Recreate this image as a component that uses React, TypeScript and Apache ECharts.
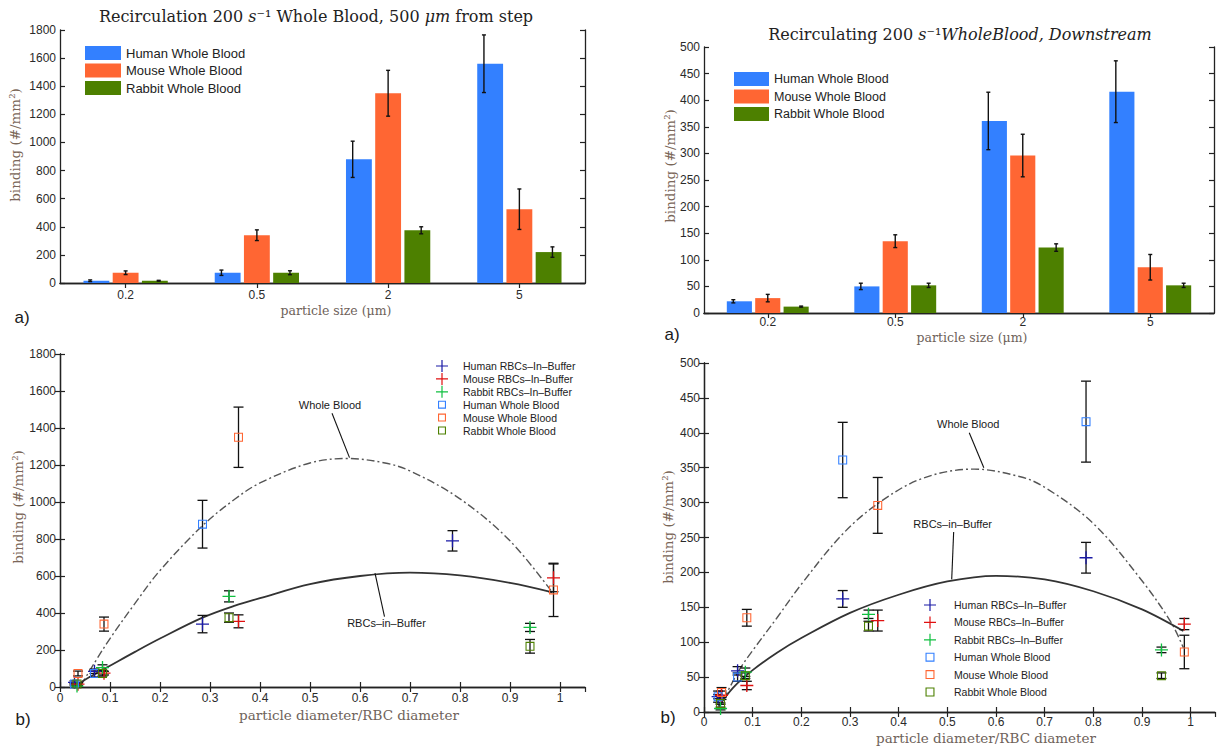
import React, { useEffect, useRef } from 'react';
import * as echarts from 'echarts';

// ---------- data ----------
const sizeCats = ['0.2', '0.5', '2', '5'];

// a) left: recirculation 200 s^-1, 500 um from step (bars, #/mm^2)
const humanWB500 = [16, 73, 880, 1560];
const humanWB500Err = [6, 19, 129, 205];
const mouseWB500 = [73, 340, 1350, 525];
const mouseWB500Err = [13, 38, 163, 144];
const rabbitWB500 = [16, 73, 375, 220];
const rabbitWB500Err = [3, 14, 25, 37];

// a) right: downstream (bars)
const humanWBDown = [22, 50, 361, 416];
const humanWBDownErr = [3, 6, 54, 58];
const mouseWBDown = [28, 135, 296, 86];
const mouseWBDownErr = [7, 12, 40, 24];
const rabbitWBDown = [12, 52, 123, 52];
const rabbitWBDownErr = [1, 4, 7, 4];

// particle diameter / RBC diameter for 0.2, 0.5, 2, 5 um
const humanRatio = [0.029, 0.069, 0.285, 0.785];
const mouseRatio = [0.036, 0.088, 0.357, 0.987];
const rabbitRatio = [0.034, 0.085, 0.338, 0.94];

// b) left: RBCs-in-buffer
const humanRBC500 = [25, 85, 340, 790];
const humanRBC500Err = [8, 12, 47, 55];
const mouseRBC500 = [15, 75, 355, 590];
const mouseRBC500Err = [8, 10, 35, 75];
const rabbitRBC500 = [5, 105, 490, 322];
const rabbitRBC500Err = [3, 15, 30, 22];
const humanWB500Shown = 3; // the 5 um human whole blood point is not drawn in b) left

// b) right: RBCs-in-buffer
const humanRBCDown = [22, 59, 162, 221];
const humanRBCDownErr = [8, 6, 12, 22];
const mouseRBCDown = [24, 38, 131, 126];
const mouseRBCDownErr = [6, 6, 15, 8];
const rabbitRBCDown = [5, 57, 140, 89];
const rabbitRBCDownErr = [2, 6, 6, 4];

// fitted curves
const wbCurve500 = [[0.042, 10], [0.07, 135], [0.1, 262], [0.15, 452], [0.2, 630], [0.285, 872], [0.35, 1016], [0.4, 1103], [0.5, 1211], [0.575, 1235], [0.65, 1211], [0.7, 1168], [0.8, 1017], [0.9, 790], [0.985, 510]];
const rbcCurve500 = [[0.03, 5], [0.06, 55], [0.1, 115], [0.15, 190], [0.2, 262], [0.285, 375], [0.35, 440], [0.4, 480], [0.5, 556], [0.6, 600], [0.7, 618], [0.8, 603], [0.9, 563], [0.985, 512]];
const wbCurveDown = [[0.04, 18], [0.074, 62], [0.1, 88], [0.15, 135], [0.2, 183], [0.285, 255], [0.36, 300], [0.45, 335], [0.555, 348], [0.65, 337], [0.7, 322], [0.8, 270], [0.9, 188], [0.96, 128], [0.985, 92]];
const rbcCurveDown = [[0.03, 8], [0.06, 35], [0.1, 60], [0.15, 85], [0.2, 106], [0.3, 142], [0.4, 168], [0.5, 187], [0.6, 195], [0.7, 190], [0.8, 173], [0.9, 147], [0.985, 116]];

// annotation anchors (data coordinates)
const wbLabel500 = [0.54, 1522];
const wbArrow500 = [[0.544, 1480], [0.579, 1240]];
const rbcLabel500 = [0.653, 346];
const rbcArrow500 = [[0.649, 380], [0.63, 615]];
const wbLabelDown = [0.543, 413];
const wbArrowDown = [[0.545, 400], [0.575, 350]];
const rbcLabelDown = [0.511, 269];
const rbcArrowDown = [[0.513, 258], [0.509, 190]];

// ---------- styles ----------
const C_HWB = '#3380ff';
const C_MWB = '#ff6633';
const C_RWB = '#4d8000';
const C_HRBC = '#1a1aa6';
const C_MRBC = '#e01010';
const C_RRBC = '#10c040';
const SANS = 'Liberation Sans, Arial, sans-serif';
const SERIF = 'DejaVu Serif, serif';
const AX = '#222';

const PLUS = 'path://M0,5.4H12V6.6H0Z M5.4,0H6.6V12H5.4Z';
const SQUARE = 'path://M0,0H10V10H0Z M1.2,1.2V8.8H8.8V1.2Z';
const PLUS_L = 'path://M0,0L0.01,0Z M32,12L31.99,12Z M10,5.4H22V6.6H10Z M15.4,0H16.6V12H15.4Z';
const SQUARE_L = 'path://M0,0L0.01,0Z M32,12L31.99,12Z M12,2H20V10H12Z M13.1,3.1V8.9H18.9V3.1Z';
const PLUS_R = 'path://M0,0L0.01,0Z M38,12L37.99,12Z M13,5.4H25V6.6H13Z M18.4,0H19.6V12H18.4Z';
const SQUARE_R = 'path://M0,0L0.01,0Z M38,12L37.99,12Z M14.5,1.5H23.5V10.5H14.5Z M15.6,2.6V9.4H22.4V2.6Z';

const lineStyle = { color: AX, width: 1.3 };
const tickIn = { show: true, inside: true, length: 5, lineStyle: { color: AX, width: 1.2 } };

function catAxes(grid: number, margin: number) {
  return [
    {
      type: 'category', gridIndex: grid, data: sizeCats, position: 'bottom',
      axisLine: { lineStyle }, axisTick: { ...tickIn, alignWithLabel: true },
      axisLabel: { color: '#2a2a2a', fontSize: 12, fontFamily: SANS, margin },
    },
    {
      type: 'category', gridIndex: grid, data: sizeCats, position: 'top',
      axisLine: { lineStyle }, axisTick: { ...tickIn, alignWithLabel: true },
      axisLabel: { show: false },
    },
  ];
}

function ratioAxes(grid: number, margin: number) {
  const base = { type: 'value', gridIndex: grid, min: 0, max: 1.05, interval: 0.1, splitLine: { show: false } };
  return [
    {
      ...base, position: 'bottom', axisLine: { lineStyle }, axisTick: tickIn,
      axisLabel: {
        color: '#2a2a2a', fontSize: 12, fontFamily: SANS, margin, showMaxLabel: false,
        formatter: (v: number) => (v > 1.001 ? '' : String(+v.toFixed(1))),
      },
    },
    { ...base, position: 'top', axisLine: { lineStyle }, axisTick: tickIn, axisLabel: { show: false } },
  ];
}

function valueAxes(grid: number, max: number, interval: number) {
  const base = { type: 'value', gridIndex: grid, min: 0, max, interval, splitLine: { show: false } };
  return [
    {
      ...base, position: 'left', axisLine: { show: true, lineStyle }, axisTick: tickIn,
      axisLabel: {
        color: '#2a2a2a', fontSize: 12, fontFamily: SANS, margin: 4,
        formatter: (v: number) => String(Math.round(v)),
      },
    },
    { ...base, position: 'right', axisLine: { show: true, lineStyle }, axisTick: tickIn, axisLabel: { show: false } },
  ];
}

function barSeries(name: string, data: number[], color: string, ax: number) {
  return {
    type: 'bar', name, data, xAxisIndex: ax, yAxisIndex: ax,
    barWidth: '19.7%', barGap: '13%', itemStyle: { color }, z: 2,
  };
}

function barErr(values: number[], errs: number[], offFrac: number, ax: number) {
  return {
    type: 'custom', xAxisIndex: ax, yAxisIndex: ax, z: 5, silent: true,
    data: values.map((v, i) => [i, v - errs[i], v + errs[i]]),
    encode: { x: 0, y: [1, 2] },
    renderItem: (params: any, api: any) => {
      const band = api.size([1, 0])[0];
      const p0 = api.coord([api.value(0), api.value(1)]);
      const p1 = api.coord([api.value(0), api.value(2)]);
      const x = p0[0] + offFrac * band;
      const style = { stroke: '#111', lineWidth: 1.4 };
      const cap = 2;
      return {
        type: 'group',
        children: [
          { type: 'line', shape: { x1: x, y1: p0[1], x2: x, y2: p1[1] }, style },
          { type: 'line', shape: { x1: x - cap, y1: p0[1], x2: x + cap, y2: p0[1] }, style },
          { type: 'line', shape: { x1: x - cap, y1: p1[1], x2: x + cap, y2: p1[1] }, style },
        ],
      };
    },
  };
}

function pointErr(xs: number[], values: number[], errs: number[], ax: number) {
  return {
    type: 'custom', xAxisIndex: ax, yAxisIndex: ax, z: 6, silent: true,
    data: values.map((v, i) => [xs[i], v - errs[i], v + errs[i]]),
    encode: { x: 0, y: [1, 2] },
    renderItem: (params: any, api: any) => {
      const p0 = api.coord([api.value(0), api.value(1)]);
      const p1 = api.coord([api.value(0), api.value(2)]);
      const style = { stroke: '#111', lineWidth: 1.3 };
      const cap = 5;
      return {
        type: 'group',
        children: [
          { type: 'line', shape: { x1: p0[0], y1: p0[1], x2: p1[0], y2: p1[1] }, style },
          { type: 'line', shape: { x1: p0[0] - cap, y1: p0[1], x2: p0[0] + cap, y2: p0[1] }, style },
          { type: 'line', shape: { x1: p1[0] - cap, y1: p1[1], x2: p1[0] + cap, y2: p1[1] }, style },
        ],
      };
    },
  };
}

function points(name: string, xs: number[], values: number[], color: string, symbol: string, size: number, ax: number) {
  return {
    type: 'scatter', name, xAxisIndex: ax, yAxisIndex: ax, z: 7,
    data: values.map((v, i) => [xs[i], v]),
    symbol, symbolSize: size, itemStyle: { color, opacity: 1 },
  };
}

function curve(data: number[][], dashed: boolean, ax: number, label: string, labelPos: number[], arrow: number[][]) {
  return {
    type: 'line', xAxisIndex: ax, yAxisIndex: ax, z: 3, silent: true,
    data, smooth: 0.35, symbol: 'none',
    lineStyle: dashed
      ? { color: '#555', width: 1.4, type: [8, 3, 2, 3] }
      : { color: '#333', width: 1.8, type: 'solid' },
    markPoint: {
      symbol: 'circle', symbolSize: 0, silent: true,
      label: { show: true, position: 'inside', formatter: label, color: '#1a1a1a', fontSize: 11, fontFamily: SANS },
      data: [{ coord: labelPos }],
    },
    markLine: {
      silent: true, symbol: ['none', 'arrow'], symbolSize: [0, 9],
      lineStyle: { color: '#111', width: 1.1, type: 'solid' },
      label: { show: false },
      data: [[{ coord: arrow[0] }, { coord: arrow[1] }]],
    },
  };
}

const NAMES = {
  hwb: 'Human Whole Blood', mwb: 'Mouse Whole Blood', rwb: 'Rabbit Whole Blood',
  hrbc: 'Human RBCs\u2013In\u2013Buffer', mrbc: 'Mouse RBCs\u2013In\u2013Buffer', rrbc: 'Rabbit RBCs\u2013In\u2013Buffer',
};

function scatterLegend(left: number, top: number, plus: string, square: string, w: number, gap: number) {
  return {
    orient: 'vertical', left, top, padding: 0, itemGap: gap, itemWidth: w, itemHeight: 12,
    selectedMode: false,
    textStyle: { fontSize: 10.5, fontFamily: SANS, color: '#222', lineHeight: 12 },
    data: [
      { name: NAMES.hrbc, icon: plus, itemStyle: { color: C_HRBC } },
      { name: NAMES.mrbc, icon: plus, itemStyle: { color: C_MRBC } },
      { name: NAMES.rrbc, icon: plus, itemStyle: { color: C_RRBC } },
      { name: NAMES.hwb, icon: square, itemStyle: { color: C_HWB } },
      { name: NAMES.mwb, icon: square, itemStyle: { color: C_MWB } },
      { name: NAMES.rwb, icon: square, itemStyle: { color: C_RWB } },
    ],
  };
}

function barLegend(left: number, top: number, w: number, fontSize: number) {
  return {
    orient: 'vertical', left, top, padding: 0, itemGap: 3.5, itemWidth: w, itemHeight: 14,
    selectedMode: false, icon: 'rect',
    textStyle: { fontSize, fontFamily: SANS, color: '#222', lineHeight: 14 },
    data: [
      { name: NAMES.hwb, icon: 'rect', itemStyle: { color: C_HWB } },
      { name: NAMES.mwb, icon: 'rect', itemStyle: { color: C_MWB } },
      { name: NAMES.rwb, icon: 'rect', itemStyle: { color: C_RWB } },
    ],
  };
}

function txt(text: string, x: number, y: number, font: number, family: string, color: string, rotate = 0, rich?: any) {
  return {
    type: 'text', x, y, rotation: rotate, silent: true,
    style: { text, fontSize: font, fontFamily: family, fill: color, align: 'center', verticalAlign: 'middle', rich },
  };
}

export default function App() {
  const ref = useRef<HTMLDivElement>(null);
  useEffect(() => {
    if (!ref.current) return;
    const chart = echarts.init(ref.current, null, { renderer: 'svg' });
    const italic = { i: { fontStyle: 'italic', fontSize: 16, fontFamily: SERIF, fill: '#222' } };
    const option: any = {
      animation: false,
      backgroundColor: '#ffffff',
      textStyle: { fontFamily: SANS },
      grid: [
        { left: 60, top: 30, width: 525, height: 253, containLabel: false },
        { left: 704, top: 47, width: 510, height: 266, containLabel: false },
        { left: 60, top: 354, width: 525, height: 333, containLabel: false },
        { left: 704, top: 363, width: 511, height: 349, containLabel: false },
      ],
      xAxis: [...catAxes(0, 6), ...catAxes(1, 3), ...ratioAxes(2, 5), ...ratioAxes(3, 4)],
      yAxis: [...valueAxes(0, 1800, 200), ...valueAxes(1, 500, 50), ...valueAxes(2, 1800, 200), ...valueAxes(3, 500, 50)],
      legend: [
        barLegend(85, 46, 36, 13),
        barLegend(734, 72, 35, 12.5),
        scatterLegend(426, 360, PLUS_L, SQUARE_L, 32, 0.9),
        scatterLegend(911, 599, PLUS_R, SQUARE_R, 38, 5.4),
      ],
      series: [
        // a) left bars (axes 0)
        barSeries(NAMES.hwb, humanWB500, C_HWB, 0),
        barSeries(NAMES.mwb, mouseWB500, C_MWB, 0),
        barSeries(NAMES.rwb, rabbitWB500, C_RWB, 0),
        barErr(humanWB500, humanWB500Err, -0.27, 0),
        barErr(mouseWB500, mouseWB500Err, 0, 0),
        barErr(rabbitWB500, rabbitWB500Err, 0.252, 0),
        // a) right bars (axes 2)
        barSeries(NAMES.hwb, humanWBDown, C_HWB, 2),
        barSeries(NAMES.mwb, mouseWBDown, C_MWB, 2),
        barSeries(NAMES.rwb, rabbitWBDown, C_RWB, 2),
        barErr(humanWBDown, humanWBDownErr, -0.27, 2),
        barErr(mouseWBDown, mouseWBDownErr, 0, 2),
        barErr(rabbitWBDown, rabbitWBDownErr, 0.262, 2),
        // b) left (axes 4)
        curve(wbCurve500, true, 4, 'Whole Blood', wbLabel500, wbArrow500),
        curve(rbcCurve500, false, 4, 'RBCs\u2013in\u2013Buffer', rbcLabel500, rbcArrow500),
        points(NAMES.hrbc, humanRatio, humanRBC500, C_HRBC, PLUS, 13, 4),
        points(NAMES.mrbc, mouseRatio, mouseRBC500, C_MRBC, PLUS, 13, 4),
        points(NAMES.rrbc, rabbitRatio, rabbitRBC500, C_RRBC, PLUS, 13, 4),
        points(NAMES.hwb, humanRatio.slice(0, humanWB500Shown), humanWB500.slice(0, humanWB500Shown), C_HWB, SQUARE, 9, 4),
        points(NAMES.mwb, mouseRatio, mouseWB500, C_MWB, SQUARE, 9, 4),
        points(NAMES.rwb, rabbitRatio, rabbitWB500, C_RWB, SQUARE, 9, 4),
        pointErr(humanRatio, humanRBC500, humanRBC500Err, 4),
        pointErr(mouseRatio, mouseRBC500, mouseRBC500Err, 4),
        pointErr(rabbitRatio, rabbitRBC500, rabbitRBC500Err, 4),
        pointErr(humanRatio.slice(0, humanWB500Shown), humanWB500.slice(0, humanWB500Shown), humanWB500Err, 4),
        pointErr(mouseRatio, mouseWB500, mouseWB500Err, 4),
        pointErr(rabbitRatio, rabbitWB500, rabbitWB500Err, 4),
        // b) right (axes 6)
        curve(wbCurveDown, true, 6, 'Whole Blood', wbLabelDown, wbArrowDown),
        curve(rbcCurveDown, false, 6, 'RBCs\u2013in\u2013Buffer', rbcLabelDown, rbcArrowDown),
        points(NAMES.hrbc, humanRatio, humanRBCDown, C_HRBC, PLUS, 13, 6),
        points(NAMES.mrbc, mouseRatio, mouseRBCDown, C_MRBC, PLUS, 13, 6),
        points(NAMES.rrbc, rabbitRatio, rabbitRBCDown, C_RRBC, PLUS, 13, 6),
        points(NAMES.hwb, humanRatio, humanWBDown, C_HWB, SQUARE, 9, 6),
        points(NAMES.mwb, mouseRatio, mouseWBDown, C_MWB, SQUARE, 9, 6),
        points(NAMES.rwb, rabbitRatio, rabbitWBDown, C_RWB, SQUARE, 9, 6),
        pointErr(humanRatio, humanRBCDown, humanRBCDownErr, 6),
        pointErr(mouseRatio, mouseRBCDown, mouseRBCDownErr, 6),
        pointErr(rabbitRatio, rabbitRBCDown, rabbitRBCDownErr, 6),
        pointErr(humanRatio, humanWBDown, humanWBDownErr, 6),
        pointErr(mouseRatio, mouseWBDown, mouseWBDownErr, 6),
        pointErr(rabbitRatio, rabbitWBDown, rabbitWBDownErr, 6),
      ],
      graphic: [
        txt('Recirculation 200 {i|s}\u207b\u00b9 Whole Blood, 500 {i|\u03bcm} from step', 316, 16, 16, SERIF, '#222', 0, italic),
        txt('Recirculating 200 {i|s}\u207b\u00b9{i|WholeBlood, Downstream}', 960, 34, 16, SERIF, '#222', 0, italic),
        txt('binding (#/mm\u00b2)', 15, 145, 13.5, SERIF, '#7a6658', Math.PI / 2),
        txt('binding (#/mm\u00b2)', 670, 166, 13.5, SERIF, '#7a6658', Math.PI / 2),
        txt('binding (#/mm\u00b2)', 18, 507, 13.5, SERIF, '#7a6658', Math.PI / 2),
        txt('binding (#/mm\u00b2)', 668, 527, 13.5, SERIF, '#7a6658', Math.PI / 2),
        txt('particle size (\u03bcm)', 336, 310, 12.5, SERIF, '#6e625a'),
        txt('particle size (\u03bcm)', 972, 337, 12.5, SERIF, '#6e625a'),
        txt('particle diameter/RBC diameter', 349, 715, 13.5, SERIF, '#6e625a'),
        txt('particle diameter/RBC diameter', 986, 738, 13.5, SERIF, '#6e625a'),
        txt('a)', 22, 317, 17, SANS, '#1a1a1a'),
        txt('a)', 672, 334, 17, SANS, '#1a1a1a'),
        txt('b)', 23, 719, 17, SANS, '#1a1a1a'),
        txt('b)', 668, 717, 17, SANS, '#1a1a1a'),
      ],
    };
    chart.setOption(option);
    return () => chart.dispose();
  }, []);
  return <div ref={ref} style={{ position: 'absolute', left: 0, top: 0, width: 1224, height: 749 }} />;
}
